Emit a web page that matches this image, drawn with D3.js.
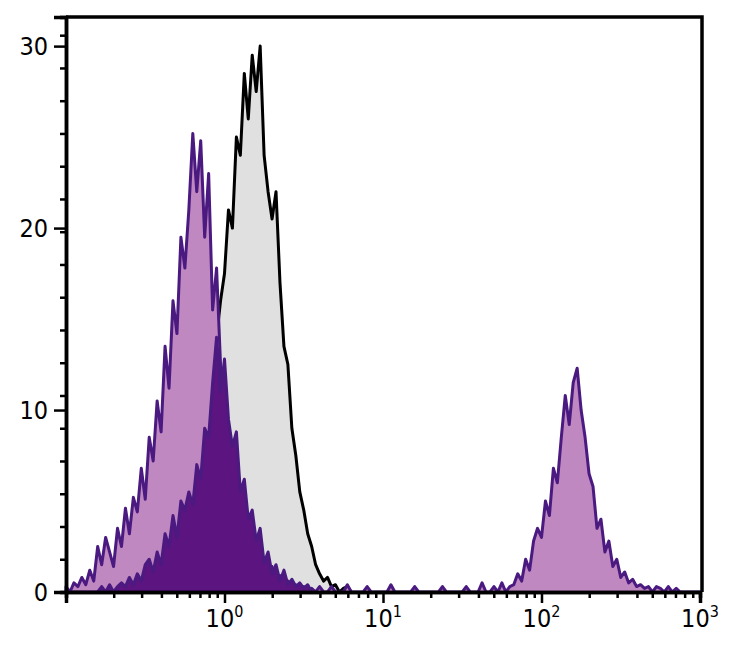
<!DOCTYPE html>
<html><head><meta charset="utf-8">
<script src="https://cdn.jsdelivr.net/npm/d3@7"></script>
<style>body{margin:0;background:#fff}text{font-family:"DejaVu Sans Condensed","Liberation Sans",sans-serif}</style>
</head><body><svg id="c" width="740" height="663"></svg>
<script>
// bins in log10 space, start -1, step 0.025
const binStart = -1, binStep = 0.025;
const isotype = [0,0,0,0,0.3,0,0,0,0,0.3,0,0,0,0,0,0,0.3,0,0,0,0,0.3,0,0,0,
  0.5,1,0.8,1.6,2.2,3,4,5.5, 6.5,8,9.5,11,12.5,14,16,17.5,
  21,20,25,24,28.5,26,29.5,27.5, 30,24,22,20.5,22,17,13.5,12.5,
  9,7.5,5.5,4.5,3.2,2.5,1.5,1, 0.6,0.8,0.3,0.4,0,0.2,0.3,0];
const stained = [0.3,0,0.5, 0.3,0.8,0.4,1.2,0.6,2.5, 1.5,3,2.2,1.4,3.5,2.5,4.6,3.2,
  5.2,4.4,6.8,5.1,8.5,7.2,10.5,8.8, 13.5,11.2,16,14.2,19.5,17.8,21,25.2,
  22,24.8,19.5,23,15.5,17.8,12.5,9.5, 7.8,5.2,6,3.5,4.2,2.4,3.1,1.6,
  2,1.1,0.8,1.4,0.5,0.9,0.3,0.6, 0.2,0.4,0,0.3,0,0.2,0,0.3,
  0,0,0.3,0,0,0,0.4,0,0,0,0,0.3,0,0,0,0,0,0.4,0,0,0,0,0,0.3,0,0,0,0,0,0,0.3,0,0,0,0,0,0.3,0,0,0,0.5,0,0,0.3,0,0.5,0,0.3,
  0.4,1,0.6,1.8,1.2,2.8,3.5,3, 5,4.2,6.8,6,8.5,10.8,9.2,11.5,
  12.3,10,8.5,6.5,5.8,3.5,4,2.2, 2.8,1.4,1.8,0.8,1.1,0.5,0.7,0.3,
  0.4,0.2,0.3,0,0.3,0.2,0,0.3,0,0.2,0,0,0,0,0,0];
const control = [0,0,0,0,0,0,0,0,0,0.3,0,0.4,0,0.3,0.5,
  0.3,0.8,0.4,1,0.6,1.5,1.8,1.1, 2.2,1.5,3.2,2.5,4.2,3,5,4.5,
  5.5,4.8,7,6.2,9,8.5,11.5,14, 11,12.8,9.5,8,8.8,5.5,6.2,4,
  4.5,2.8,3.5,1.6,2.2,1,1.5,0.6, 1.2,0.4,0.7,0.3,0.5,0.2,0.4,0];
const xTicks = [1, 10, 100, 1000];
const yTicks = [0, 10, 20, 30];

const svg = d3.select("#c");
const x = d3.scaleLog().domain([0.1, 1000]).range([66, 700]);
const y = d3.scaleLinear().domain([0, 31.6]).range([592, 17]);

function pts(arr) {
  const p = arr.map((v, i) => [Math.pow(10, binStart + i * binStep), v]);
  p.unshift([p[0][0], 0]); p.push([p[p.length - 1][0], 0]);
  return p;
}
const area = d3.area().x(d => x(d[0])).y0(y(0)).y1(d => y(d[1]));
const line = d3.line().x(d => x(d[0])).y(d => y(d[1]));

const series = [
  {d: isotype, fill: "#e0e0e0", stroke: "#000"},
  {d: stained, fill: "#c088c0", stroke: "#4a1a80"},
  {d: control, fill: "#5c1480", stroke: "#4a1a80"}
];
series.forEach(s => {
  const p = pts(s.d);
  svg.append("path").attr("d", area(p)).attr("fill", s.fill);
  svg.append("path").attr("d", line(p)).attr("fill", "none")
    .attr("stroke", s.stroke).attr("stroke-width", 3).attr("stroke-linejoin", "round");
});

// frame
svg.append("path").attr("d", "M66,17H702V592").attr("fill", "none").attr("stroke", "#000").attr("stroke-width", 3.5);

const xMinor = [];
for (let e = -1; e < 3; e++) for (let k = 2; k <= 9; k++) xMinor.push(k * Math.pow(10, e));
svg.append("g").attr("transform", "translate(0,592)")
  .call(d3.axisBottom(x).tickValues(xTicks).tickSize(11).tickFormat(""));
svg.append("g").attr("transform", "translate(0,592)")
  .call(d3.axisBottom(x).tickValues(xMinor).tickSize(6).tickFormat(""));
const yMinor = d3.range(0, 31.6, 1.8);
svg.append("g").attr("transform", "translate(66,0)")
  .call(d3.axisLeft(y).tickValues(yMinor).tickSize(6).tickFormat(""));
const yAx = svg.append("g").attr("transform", "translate(66,0)")
  .call(d3.axisLeft(y).tickValues(yTicks).tickSize(12).tickFormat(d3.format("d")).tickPadding(6));
svg.selectAll(".domain").attr("stroke-width", 3.5);
svg.selectAll(".tick line").attr("stroke-width", 2.5);
yAx.selectAll("text").attr("font-size", 25).attr("fill", "#000");

xTicks.forEach(t => {
  const g = svg.append("text").attr("x", x(t)).attr("y", 618).attr("text-anchor", "middle")
    .attr("font-size", 25).attr("dy", "0.35em");
  g.append("tspan").text("10");
  g.append("tspan").attr("font-size", 16).attr("dy", "-0.6em").text(Math.round(Math.log10(t)));
});
</script></body></html>
